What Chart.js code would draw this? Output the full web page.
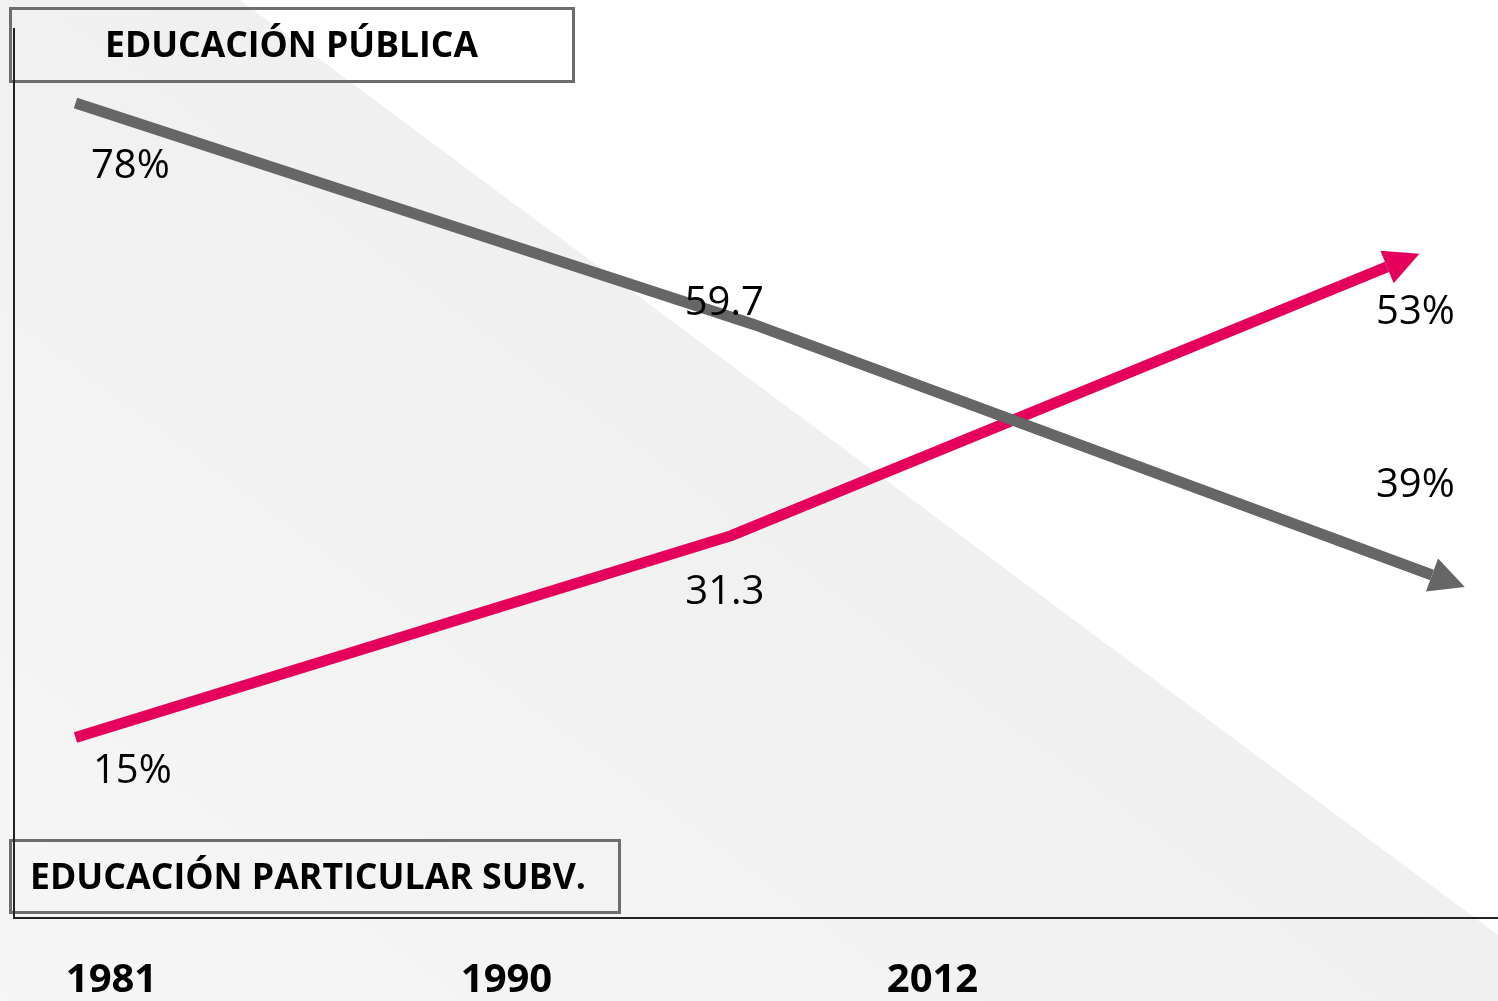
<!DOCTYPE html>
<html>
<head>
<meta charset="utf-8">
<script src="https://cdn.jsdelivr.net/npm/chart.js@4.4.1/dist/chart.umd.min.js"></script>
<style>
  html, body { margin: 0; padding: 0; background: #fff; }
  #wrap { width: 1498px; height: 1001px; position: relative; }
</style>
</head>
<body>
<div id="wrap"><canvas id="chart"></canvas></div>
<script>
// Datos
const years = ['1981', '1990', '2012'];
const publica = [78, 59.7, 39];
const subvencionada = [15, 31.3, 53];
const publicaLabels = ['78%', '59.7', '39%'];
const subvLabels = ['15%', '31.3', '53%'];
const titlePublica = 'EDUCACIÓN PÚBLICA';
const titleSubv = 'EDUCACIÓN PARTICULAR SUBV.';

const GRAY = '#666666';
const PINK = '#e4005b';

function toPoints(values) {
    return values.map((v, i) => ({ x: i, y: v }));
}

// Texto ajustado a un ancho (Calibri no está instalada)
function drawFitted(ctx, text, left, baseline, width, font) {
    ctx.font = font;
    const w = ctx.measureText(text).width;
    ctx.save();
    ctx.translate(left, baseline);
    ctx.scale(width / w, 1);
    ctx.textAlign = 'left';
    ctx.textBaseline = 'alphabetic';
    ctx.fillText(text, 0, 0);
    ctx.restore();
}

// Fondo, ejes y cajas de título
const decorPlugin = {
    id: 'decor',
    beforeDraw(chart) {
        const { ctx, width, height } = chart;
        ctx.save();
        ctx.fillStyle = '#ffffff';
        ctx.fillRect(0, 0, width, height);

        const g = ctx.createLinearGradient(0, height, 560, 250);
        g.addColorStop(0, '#f6f6f6');
        g.addColorStop(1, '#f0f0f0');
        ctx.fillStyle = g;
        ctx.beginPath();
        ctx.moveTo(0, 0);
        ctx.lineTo(240, 0);
        ctx.lineTo(width, 935);
        ctx.lineTo(width, height);
        ctx.lineTo(0, height);
        ctx.closePath();
        ctx.fill();

        // cajas
        ctx.strokeStyle = '#6d6d6d';
        ctx.lineWidth = 3;
        ctx.strokeRect(10.5, 8.5, 563, 73);
        ctx.strokeRect(10.5, 840.5, 609, 72);

        // ejes
        ctx.strokeStyle = '#222222';
        ctx.lineWidth = 2;
        ctx.beginPath();
        ctx.moveTo(14, 28);
        ctx.lineTo(14, 918);
        ctx.lineTo(width, 918);
        ctx.stroke();

        ctx.fillStyle = '#000000';
        drawFitted(ctx, titlePublica, 105, 57, 373, 'bold 36px "Open Sans"');
        drawFitted(ctx, titleSubv, 30, 889, 556, 'bold 36px "Open Sans"');

        // años
        const yearX = [111.5, 506.5, 932.5];
        ctx.font = 'bold 40px "Open Sans"';
        ctx.textAlign = 'center';
        ctx.textBaseline = 'alphabetic';
        years.forEach((y, i) => ctx.fillText(y, yearX[i], 992));
        ctx.restore();
    },
    afterDatasetsDraw(chart) {
        const { ctx } = chart;
        ctx.save();
        chart.data.datasets.forEach((ds, di) => {
            const pts = chart.getDatasetMeta(di).data;
            // punta de flecha
            const a = pts[pts.length - 2], b = pts[pts.length - 1];
            const ang = Math.atan2(b.y - a.y, b.x - a.x);
            const len = 35, half = 17.5;
            ctx.fillStyle = ds.borderColor;
            ctx.beginPath();
            ctx.moveTo(b.x + Math.cos(ang) * len, b.y + Math.sin(ang) * len);
            ctx.lineTo(b.x + Math.cos(ang + Math.PI / 2) * half, b.y + Math.sin(ang + Math.PI / 2) * half);
            ctx.lineTo(b.x - Math.cos(ang + Math.PI / 2) * half, b.y - Math.sin(ang + Math.PI / 2) * half);
            ctx.closePath();
            ctx.fill();

            // etiquetas de valores
            ctx.fillStyle = '#000000';
            ctx.font = '40px "Open Sans"';
            ctx.textAlign = 'left';
            ctx.textBaseline = 'alphabetic';
            pts.forEach((p, i) => {
                const s = ds.labelShift[i];
                ctx.fillText(ds.valueLabels[i], p.x + s[0], p.y + s[1]);
            });
        });
        ctx.restore();
    }
};

const ctx = document.getElementById('chart').getContext('2d');
const chart = new Chart(ctx, {
    type: 'line',
    data: {
        datasets: [{
            label: titlePublica,
            data: toPoints(publica),
            xAxisID: 'x',
            yAxisID: 'y',
            borderColor: GRAY,
            borderWidth: 11,
            borderCapStyle: 'butt',
            pointRadius: 0,
            tension: 0,
            clip: false,
            valueLabels: publicaLabels,
            labelShift: [[15.5, 75], [-69, -9], [-56, -78]]
        }, {
            label: titleSubv,
            data: toPoints(subvencionada),
            xAxisID: 'x2',
            yAxisID: 'y2',
            borderColor: PINK,
            borderWidth: 11,
            borderCapStyle: 'butt',
            pointRadius: 0,
            tension: 0,
            clip: false,
            valueLabels: subvLabels,
            labelShift: [[17.5, 45.5], [-46, 68], [-11, 57]]
        }]
    },
    options: {
        responsive: true,
        maintainAspectRatio: false,
        animation: false,
        layout: { padding: { left: 75.5, top: 103, right: 66, bottom: 263.5 } },
        plugins: { legend: { display: false }, tooltip: { enabled: false } },
        scales: {
            x: { type: 'linear', display: false, min: 0, max: 2 },
            x2: { type: 'linear', display: false, min: 0, max: 2.0686 },
            y: { type: 'linear', display: false, min: 25.57, max: 78 },
            y2: { type: 'linear', display: false, min: 15, max: 66.24 }
        }
    },
    plugins: [decorPlugin]
});
</script>
</body>
</html>
